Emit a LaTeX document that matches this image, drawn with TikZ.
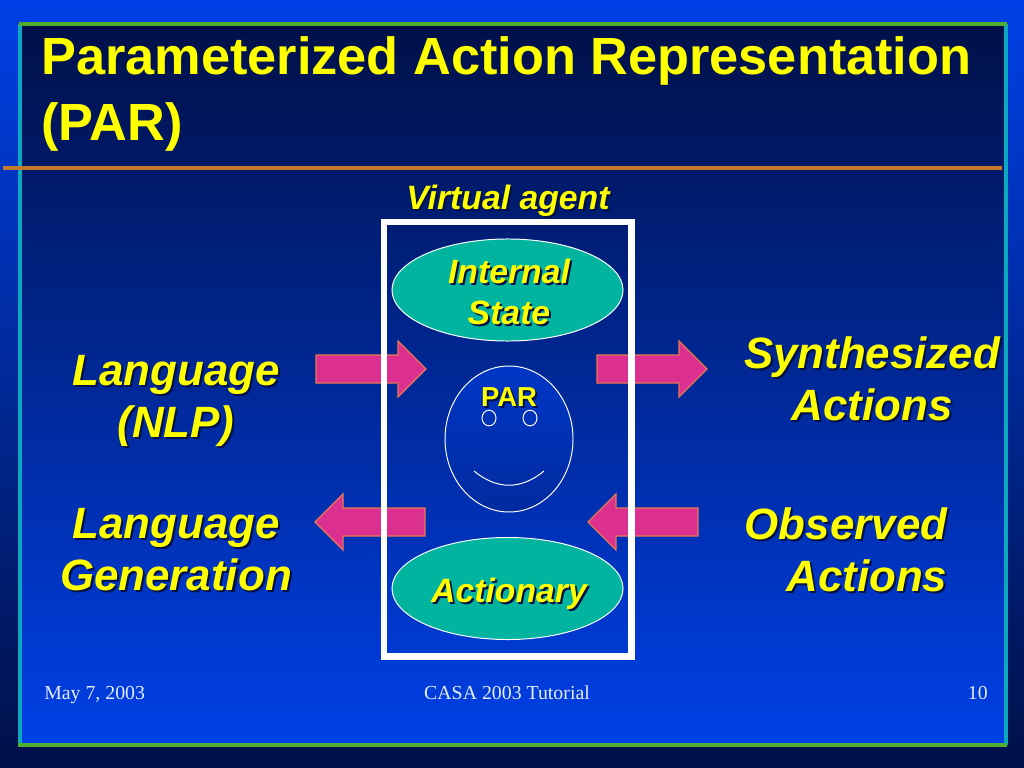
\documentclass[tikz,border=0pt]{standalone}
\usepackage{fontspec}
\setmainfont{Liberation Sans}
\newfontfamily\footfont{Liberation Serif}
\usetikzlibrary{shapes.geometric}
\definecolor{brightbg}{HTML}{0040E6}
\definecolor{midbg}{HTML}{0032B4}
\definecolor{darkbg}{HTML}{001048}
\definecolor{titleyellow}{HTML}{FFFF00}
\definecolor{rulegreen}{HTML}{50AE30}
\definecolor{ruleteal}{HTML}{0CA8C0}
\definecolor{ruleorange}{HTML}{C47A2C}
\definecolor{oval}{HTML}{00B4A0}
\definecolor{pinkfill}{HTML}{DC3090}
\definecolor{pinkedge}{HTML}{E87850}
\definecolor{footc}{HTML}{E4ECFF}
\tikzset{
  bigtxt/.style={font=\fontsize{31.2}{37}\selectfont\bfseries\itshape,align=center},
  midtxt/.style={font=\fontsize{24}{29.5}\selectfont\bfseries\itshape,align=center},
  partxt/.style={font=\fontsize{19.5}{23}\selectfont\bfseries},
  titletxt/.style={anchor=base west,inner sep=0pt,text=titleyellow,font=\fontsize{37.2}{46}\selectfont\bfseries},
  foot/.style={font=\fontsize{14.1}{17}\selectfont\footfont,text=footc,inner sep=0pt},
  ovalbox/.style={ellipse,draw=white,fill=oval,line width=0.7pt,minimum width=5.775cm,minimum height=2.55cm,inner sep=0pt},
  eye/.style={ellipse,draw=white,line width=0.7pt,minimum width=0.35cm,minimum height=0.39cm,inner sep=0pt},
  pinkarrow/.style={draw=pinkedge,fill=pinkfill,line width=0.8pt},
}
% text with a dark copy behind it
\newcommand{\shadowlabel}[4]{%
  \node[#1,text=darkbg,xshift=0.05cm,yshift=-0.05cm] (#2s) at #3 {#4};
  \node[#1,text=titleyellow] (#2) at #3 {#4};
}
\begin{document}
\begin{tikzpicture}[x=0.025cm,y=-0.025cm]
  \useasboundingbox (0,0) rectangle (1024,768);
  % ---------- background ----------
  \shade[top color=brightbg,middle color=midbg,bottom color=darkbg] (0,0) rectangle (1024,768);
  \shade[top color=darkbg,middle color=midbg,bottom color=brightbg] (20,24) rectangle (1006,744);
  \draw[ruleteal,line width=2.2pt] (20,24) -- (20,745);
  \draw[ruleteal,line width=2.2pt] (1006,24) -- (1006,745);
  \draw[rulegreen,line width=2.2pt] (19,24) -- (1007,24);
  \draw[rulegreen,line width=2.2pt] (18,745) -- (1007,745);
  \draw[ruleorange,line width=2.2pt] (3,168) -- (1002,168);
  % ---------- title ----------
  \node[titletxt] (title1) at (41,75) {Parameterized Action Representation};
  \node[titletxt] (title2) at (41,141) {(PAR)};
  % ---------- arrows ----------
  \foreach \tx/\ty/\dir in {316/369/1, 597/369/1, 425/522/-1, 698/522/-1}{
    \draw[pinkarrow,shift={(\tx,\ty)},xscale=\dir]
      (0,-14) -- (82,-14) -- (82,-28) -- (110,0) -- (82,28) -- (82,14) -- (0,14) -- cycle;
  }
  % ---------- agent ----------
  \draw[white,line width=4.7pt] (384,222) rectangle (631.5,656.5);
  \node[ovalbox] (internal) at (507.5,290) {};
  \node[ovalbox] (actionary) at (507.5,588.5) {};
  \shade[top color=brightbg!80!darkbg,bottom color=darkbg!45!brightbg,draw=white,line width=0.7pt] (509,439) ellipse (64 and 73);
  \node[eye] (eyeleft) at (489,418) {};
  \node[eye] (eyeright) at (530,418) {};
  \draw[white,line width=0.7pt] (474,471) .. controls (497,490) and (521,490) .. (544,471);
  % ---------- labels ----------
  \shadowlabel{midtxt}{virtual}{(508,201)}{Virtual agent}
  \shadowlabel{midtxt}{state}{(509,292)}{Internal\\State}
  \shadowlabel{midtxt}{action}{(509,594)}{Actionary}
  \shadowlabel{partxt}{par}{(509,397)}{PAR}
  \shadowlabel{bigtxt}{nlp}{(176,401)}{Language\\(NLP)}
  \shadowlabel{bigtxt}{gen}{(176,550)}{Language\\Generation}
  \shadowlabel{bigtxt}{synth}{(872,379)}{Synthesized\\Actions}
  \shadowlabel{bigtxt,align=right}{obs}{(846,550)}{Observed\\Actions}
  % ---------- footer ----------
  \node[foot,anchor=base west] (date) at (44,699) {May 7, 2003};
  \node[foot,anchor=base] (event) at (507,699) {CASA 2003 Tutorial};
  \node[foot,anchor=base east] (page) at (988,699) {10};
\end{tikzpicture}
\end{document}
